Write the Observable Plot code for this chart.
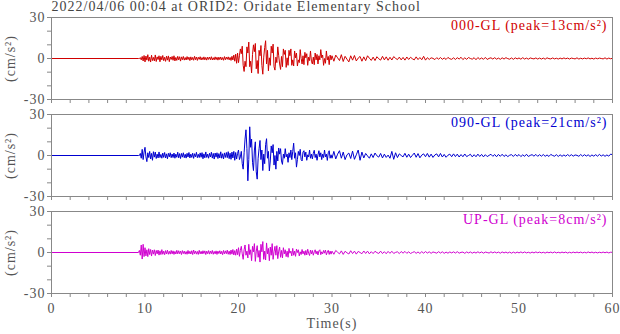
<!DOCTYPE html>
<html><head><meta charset="utf-8">
<script src="https://cdn.jsdelivr.net/npm/d3@7"></script>
<script src="https://cdn.jsdelivr.net/npm/@observablehq/plot@0.6"></script>
<style>
html,body{margin:0;padding:0;background:#fff;}
svg text{letter-spacing:1px;}
g[aria-label="title"] text{letter-spacing:0.75px;}
</style></head><body><div id="chart"></div>
<script>
const components = ["000", "090", "UP"];
const componentNames = ["000-GL", "090-GL", "UP-GL"];
const peaks = [13, 21, 8];
const colors = ["#d00000", "#0000d0", "#d000d0"];
const title = "2022/04/06 00:04 at ORID2: Oridate Elementary School";
const xLabelTicks = [0, 10, 20, 30, 40, 50, 60];
const xMinorTicks = [0,2,4,6,8,10,12,14,16,18,20,22,24,26,28,30,32,34,36,38,40,42,44,46,48,50,52,54,56,58,60];
const yTicks = [-30, -20, -10, 0, 10, 20, 30];
const yLabelTicks = [-30, 0, 30];

// quiet record before the first arrival
const preTimes = [0, 9.3];
const preValues = [0, 0];
// sampled values: 9.4 … 30.0 s every 0.1 s, then 30.2 … 60.0 s every 0.2 s
const fineStart = 9.4, fineStep = 0.1;
const coarseStart = 30.2, coarseStep = 0.2;

const fine000 = [
 0, 0.6, -1.0, 1.5, -1.8, 2.2,
 -2.5, 1.8, -1.2, 2.8, -2.0, 1.0, -2.6, 2.4, -1.5, 0.8,
 -1.8, 2.6, -2.2, 1.2, -0.8, 2.0, -2.4, 1.6, -1.0, 2.2,
 -1.6, 0.9, -2.1, 1.7, -1.2, 1.9, -2.3, 1.1, -0.7, 1.5,
 -1.3, 2.0, -1.8, 0.8, -1.4, 1.6, -1.0, 1.3, -1.9, 1.2,
 -0.9, 1.5, -1.2, 0.7, -1.1, 1.4, -0.8, 1.0, -1.5, 1.2,
 -1.0, 0.8, -1.3, 1.6, -0.9, 1.1, -1.4, 0.9, -0.6, 1.3,
 -1.1, 0.7, -0.9, 1.2, -1.0, 0.8, -1.2, 1.0, -0.7, 1.1,
 -0.9, 1.3, -1.1, 0.6, -1.0, 1.2, -0.8, 0.9, -1.2, 1.0,
 -0.8, 1.1, -1.0, 0.7, -1.3, 1.4, -0.9, 1.0, -0.6, 1.2,
 -1.0, 0.8, -1.4, 1.6, -1.1, 2.5, -2.0, 3.2, -3.5, 4.0,
 -3.0, 2.0, 7.0, 3.5, 9.0, -5.0, -9.5, -2.0, -6.0, 8.5,
 4.0, 12.0, -6.0, -2.0, -10.5, 3.0, 10.0, 5.0, 11.0, -7.5,
 -1.5, -11.0, 6.0, 2.0, 9.5, -5.0, -11.5, 1.0, 8.0, 13.0,
 -4.0, 6.0, -9.0, 0.5, -5.0, 9.0, 4.0, 10.5, -6.0, -8.5,
 1.0, -3.0, 8.5, 2.0, -4.0, -8.0, 1.5, -6.0, 7.0, 3.0,
 6.0, -6.5, 0.5, -5.0, 6.0, 2.0, 7.0, -5.0, -1.0, -5.5,
 5.5, 0.5, 4.0, -5.5, -1.0, -3.0, 6.5, 0.0, -4.0, 2.0,
 -4.5, 4.5, 0.5, 3.5, -5.0, 1.0, -1.5, 5.5, -2.0, -4.0,
 1.0, -4.5, 4.0, -1.0, 3.0, -4.0, 2.0, -1.0, 6.5, 0.5,
 2.5, -5.0, 0.0, -3.5, 5.5, -1.0, 1.5, -4.5, 2.5, -1.0,
 2.0
];
const coarse000 = [
 -2.0, 2.5, 0.5, -1.5, 2.8, -2.2, 1.6, -0.5, -2.5, 2.0,
 -1.2, 2.2, -1.8, 0.3, 1.5, -2.0, 1.2, -1.6, 2.0, 0.2,
 -1.4, 1.0, -1.5, 1.3, -0.2, -1.2, 1.6, -1.0, 1.2, -1.3,
 0.9, -1.1, 1.4, 0.1, -0.8, 1.0, -1.0, 0.8, -1.2, 1.1,
 -0.7, 0.9, -0.2, -1.0, 1.2, -0.8, 0.7, -0.9, 1.6, -1.2,
 0.6, -0.7, 0.5, 0.1, -0.8, 0.6, -0.5, 0.7, -0.6, 0.4,
 -0.7, 0.8, -0.2, -0.6, 0.5, -0.7, 0.6, -0.4, 0.9, -0.8,
 0.5, -0.6, 0.7, 0.0, -0.5, 0.6, -0.9, 0.7, -0.5, 0.4,
 -0.6, 0.8, -0.7, 0.1, 0.5, -0.4, 0.6, -0.5, 0.3, -0.6,
 0.5, -0.4, 0.6, -0.1, -0.5, 0.4, -0.6, 0.5, -0.3, 0.4,
 -0.5, 0.6, -0.4, 0.3, -0.5, 0.4, 0.0, -0.3, 0.4, -0.4,
 0.3, -0.4, 0.3, -0.5, 0.5, -0.1, -0.3, 0.4, -0.3, 0.2,
 -0.4, 0.3, -0.3, 0.4, -0.2, 0.3, -0.4, 0.3, 0.0, -0.3,
 0.5, -0.4, 0.2, -0.3, 0.3, -0.2, 0.4, -0.3, 0.2, -0.4,
 0.3, -0.2, 0.3, 0.0, -0.3, 0.5, -0.4, 0.3, -0.2, 0.2
];

const fine090 = [
 0, 1.5, -2.0, 4.5, -3.0, 2.5,
 6.0, -1.0, -4.5, 2.0, -1.5, 3.0, -2.5, 1.5, -3.5, 2.8,
 -1.2, 2.5, -2.2, 1.0, -1.8, 2.6, -1.5, 0.8, -2.0, 1.8,
 -1.4, 2.2, -1.8, 1.2, -2.4, 1.6, -1.0, 2.0, -1.6, 1.1,
 -1.5, 1.8, -2.0, 1.0, -1.3, 2.4, -1.7, 1.4, -2.2, 1.5,
 -1.2, 2.0, -1.6, 0.9, -1.9, 1.6, -1.1, 2.2, -1.8, 1.0,
 -1.4, 1.7, -2.1, 1.3, -1.0, 2.3, -1.6, 0.9, -1.5, 1.9,
 -1.3, 2.1, -2.4, 1.2, -1.7, 2.6, -1.4, 1.0, -2.0, 1.6,
 -1.1, 2.4, -1.9, 1.5, -2.6, 1.8, -1.2, 2.0, -2.2, 1.4,
 -1.8, 2.7, -2.0, 1.3, -2.5, 1.9, -1.4, 2.2, -1.6, 2.8,
 -2.3, 1.7, -2.8, 2.5, -1.8, 3.0, -3.5, 2.2, -2.6, 1.5,
 4.0, -3.0, -1.0, 3.0, -6.0, -10.0, 2.0, 12.0, 18.8, 5.0,
 -18.5, -3.0, 21.0, 6.0, 12.0, -5.0, -11.0, 4.0, 10.0, -12.0,
 -17.3, -2.0, 5.0, 11.0, -3.0, 4.0, -11.0, 1.0, -6.0, 8.0,
 12.3, -2.0, 3.0, -11.3, -4.0, 7.0, 2.0, 8.0, -7.0, 0.0,
 -10.0, 3.0, -4.0, 5.5, 1.0, 5.0, -4.0, -6.5, 1.0, -2.0,
 5.0, -1.0, 1.0, -5.0, 2.0, -1.5, 4.0, -3.0, 3.0, 9.0,
 -2.0, 2.0, -8.5, -3.0, 3.0, 0.0, 4.5, -3.0, -4.0, 2.5,
 3.5, -1.0, 2.5, -3.5, 0.5, -1.0, 4.0, -2.0, 1.0, -2.5,
 1.5, 3.8, -1.5, 1.0, -3.5, 0.5, 3.5, -1.0, 2.0, -3.0,
 1.0, -1.5, 4.0, -1.0, 1.0, -3.6, 2.0, 3.5, -2.0, 0.5,
 -2.0
];
const coarse090 = [
 3.0, -2.5, 1.0, 3.5, -2.0, 2.5, -3.0, 0.5, 1.8, -2.2,
 3.2, -2.8, 0.5, 4.0, -3.5, 2.5, -1.8, 1.5, -0.3, -2.0,
 1.2, -1.5, 1.8, -0.2, -1.2, 1.5, -1.8, 1.0, -1.4, 0.3,
 -2.0, 3.0, -2.8, 2.0, -1.5, 1.2, 0.0, -1.0, 1.6, -1.3,
 1.0, -1.5, 0.2, 1.8, -1.3, 1.4, -1.7, 0.3, 1.2, -0.9,
 1.5, -1.2, 1.0, -1.4, 0.4, 1.2, -1.0, 1.5, -1.1, 0.8,
 -1.3, 0.2, 1.0, -0.9, 1.2, -0.8, 1.0, -1.1, 0.7, -0.9,
 1.1, -0.8, 0.0, 0.9, -1.0, 0.6, -0.9, 1.0, -0.7, 0.8,
 -1.0, 0.6, -0.8, 0.1, 0.9, -0.6, 0.7, -0.9, 0.8, -0.6,
 0.9, -0.7, 0.5, -0.8, 0.2, 0.6, -0.7, 0.8, -0.5, 0.7,
 -0.8, 0.5, -0.6, 0.9, -0.7, 0.1, 0.6, -0.5, 0.8, -0.6,
 0.6, -0.5, 0.7, -0.6, 0.4, -0.7, 0.8, 0.0, -0.5, 0.6,
 -0.7, 0.5, -0.6, 0.4, -0.5, 0.7, -0.4, 0.6, -0.5, 0.4,
 0.1, -0.6, 0.7, -0.5, 0.6, -0.4, 0.5, -0.7, 0.4, -0.5,
 0.6, -0.5, 0.8, -0.4, 0.5, -0.6, 0.4, -0.5, 1.0, 0.6
];

const fineUP = [
 1.5, -2.0, 5.5, -4.8, 6.0, -3.0,
 3.5, -2.5, 2.0, -3.0, 2.8, -1.5, 2.2, -2.6, 1.8, -1.2,
 2.0, -2.2, 1.5, -1.0, 1.8, -1.9, 1.2, -1.5, 2.1, -1.3,
 1.0, -1.6, 1.4, -1.1, 1.7, -1.3, 0.9, -1.2, 1.5, -1.0,
 1.2, -1.4, 0.8, -1.1, 1.6, -1.0, 1.3, -0.9, 1.1, -1.5,
 1.4, -0.8, 1.0, -1.2, 0.7, -1.3, 1.5, -1.0, 0.9, -1.1,
 1.3, -1.5, 1.8, -0.9, 1.1, -1.2, 0.8, -1.4, 1.6, -1.0,
 0.9, -1.1, 1.3, -0.8, 1.2, -1.5, 1.0, -0.9, 1.4, -1.2,
 1.1, -0.9, 1.5, -1.3, 0.8, -1.0, 1.2, -1.4, 1.0, -0.8,
 1.3, -1.1, 0.9, -1.6, 1.5, -1.0, 1.2, -0.9, 1.7, -1.3,
 1.0, -1.5, 1.8, -1.2, 2.2, -1.8, 1.4, -2.0, 2.5, -1.6,
 3.5, -2.8, 1.5, 4.5, -1.0, -5.0, 2.0, 5.5, -2.0, 1.0,
 -4.0, 6.0, -1.5, 2.0, -6.0, 4.5, 0.5, 6.5, -6.5, 1.0,
 5.0, -3.5, 1.5, -7.0, 6.0, 0.5, 8.0, -5.0, 1.0, -5.5,
 7.0, -1.0, 3.0, -6.0, 4.0, -2.0, 6.5, -5.0, 0.5, 4.5,
 -2.0, 5.0, -4.5, 1.0, 4.0, -3.5, 1.5, -4.0, 3.5, -1.0,
 2.0, -3.0, 1.0, -3.5, 3.0, -0.5, 1.0, -2.5, 3.0, -2.0,
 1.0, -2.8, 2.5, 0.0, 2.0, -2.5, 0.5, -1.5, 2.2, -1.0,
 1.0, -2.0, 1.5, -1.8, 2.4, -0.5, -2.2, 1.8, -1.0, 1.5,
 -2.0, 0.5, 2.0, -1.0, 1.0, -1.8, 1.2, 2.0, -1.6, 0.5,
 -1.0, 1.5, -0.5, 1.8, -1.7, 0.3, 1.6, -1.4, 1.0, -1.2,
 1.0
];
const coarseUP = [
 -1.3, 1.5, 0.2, -1.0, 1.2, -1.4, 0.9, -0.2, -1.1, 1.3,
 -0.8, 1.0, -1.2, 0.8, 0.0, -0.9, 1.1, -0.7, 1.0, -1.0,
 0.6, -0.8, 0.9, -0.1, -0.7, 1.0, -0.8, 0.6, -0.9, 0.8,
 -0.6, 0.9, -0.7, 0.1, 0.5, -0.8, 0.7, -0.5, 0.8, -0.6,
 0.5, -0.7, 0.0, 0.6, -0.6, 0.4, -0.7, 0.6, -0.5, 0.7,
 -0.4, 0.5, -0.6, 0.4, 0.0, -0.5, 0.6, -0.4, 0.5, -0.6,
 0.3, -0.5, 0.4, -0.3, 0.5, -0.4, 0.6, -0.5, 0.1, 0.3,
 -0.6, 0.4, -0.3, 0.4, -0.5, 0.3, -0.4, 0.5, -0.3, 0.4,
 -0.5, 0.3, 0.0, -0.4, 0.5, -0.3, 0.4, -0.3, 0.3, -0.5,
 0.4, -0.3, 0.3, -0.4, 0.3, -0.5, 0.3, -0.4, 0.3, -0.3,
 0.4, -0.3, 0.4, -0.3, 0.2, -0.4, 0.3, -0.3, 0.4, -0.2,
 0.3, -0.3, 0.2, -0.4, 0.3, -0.2, 0.3, -0.3, 0.4, -0.3,
 0.2, -0.3, 0.3, -0.2, 0.3, -0.4, 0.2, -0.3, 0.3, -0.2,
 0.3, -0.2, 0.3, -0.3, 0.2, -0.3, 0.4, -0.2, 0.3, -0.3,
 0.2, -0.3, 0.2, -0.2, 0.3, -0.2, 0.3, -0.3, 0.2, 0.1
];

function buildRows(comp, fine, coarse) {
  const rows = [];
  preTimes.forEach((t, i) => rows.push({comp, t, v: preValues[i]}));
  fine.forEach((v, i) => rows.push({comp, t: +(fineStart + i * fineStep).toFixed(2), v}));
  coarse.forEach((v, i) => rows.push({comp, t: +(coarseStart + i * coarseStep).toFixed(2), v}));
  return rows;
}
const rows = [
  ...buildRows("000", fine000, coarse000),
  ...buildRows("090", fine090, coarse090),
  ...buildRows("UP", fineUP, coarseUP)
];
const labels = components.map((comp, i) => ({comp, label: `${componentNames[i]} (peak=${peaks[i]}cm/s²)`}));

const chart = Plot.plot({
  width: 620, height: 334,
  marginLeft: 51, marginRight: 8, marginTop: 16, marginBottom: 39,
  style: {fontFamily: "'Liberation Serif', 'Times New Roman', serif", fontSize: "14px", background: "#fff", overflow: "visible"},
  x: {domain: [0, 60]},
  y: {domain: [-30, 30]},
  fy: {domain: components, axis: null, padding: 0.15},
  color: {domain: components, range: colors},
  marks: [
    Plot.axisY({ticks: yTicks, tickSize: 4, tickPadding: 2, tickFormat: d => yLabelTicks.includes(d) ? String(d) : "", stroke: "#888", fill: "#555", label: null}),
    Plot.axisX({ticks: xMinorTicks, tickSize: 4, tickFormat: () => "", facetAnchor: null, stroke: "#888", label: null}),
    Plot.axisX({ticks: xLabelTicks, tickSize: 0, tickPadding: 10, tickFormat: d => String(d), fill: "#555", label: null}),
    Plot.lineY(rows, {x: "t", y: "v", fy: "comp", stroke: "comp", strokeWidth: 1}),
    Plot.frame({stroke: "#888"}),
    Plot.text(labels, {fy: "comp", text: "label", fill: "comp", frameAnchor: "top-right", textAnchor: "end", lineAnchor: "middle", dx: -5, dy: 8}),
    Plot.text(components.map(comp => ({comp})), {fy: "comp", text: () => "(cm/s²)", frameAnchor: "left", textAnchor: "middle", lineAnchor: "middle", rotate: -90, dx: -41, fill: "#555"}),
    Plot.text([{comp: "000"}], {fy: "comp", text: () => title, frameAnchor: "top-left", textAnchor: "start", lineAnchor: "middle", dy: -10.5, fill: "#444", ariaLabel: "title"}),
    Plot.text([{comp: "UP"}], {fy: "comp", text: () => "Time(s)", frameAnchor: "bottom", textAnchor: "middle", lineAnchor: "middle", dy: 30, fill: "#555"})
  ]
});
document.getElementById("chart").appendChild(chart);
</script></body></html>
